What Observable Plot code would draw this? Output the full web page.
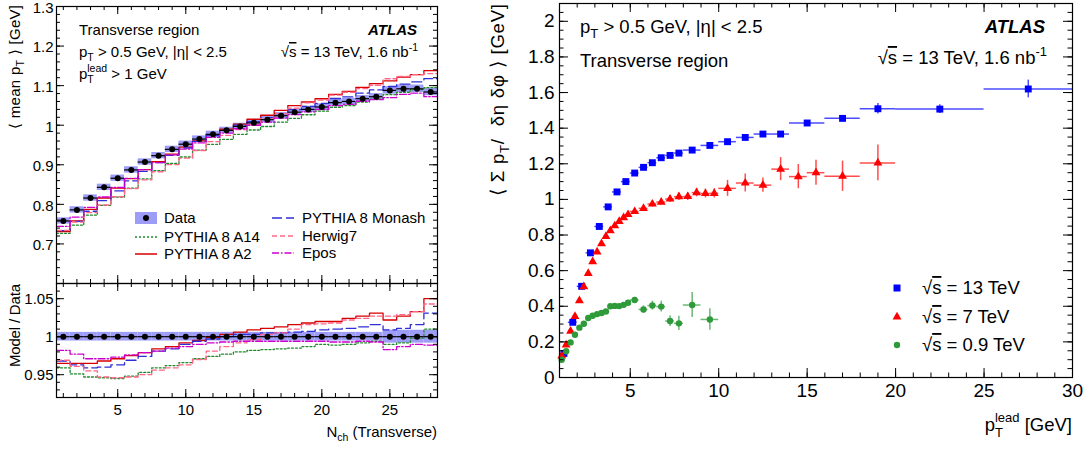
<!DOCTYPE html>
<html><head><meta charset="utf-8">
<script src="https://cdn.jsdelivr.net/npm/d3@7"></script>
<script src="https://cdn.jsdelivr.net/npm/@observablehq/plot@0.6"></script>
<style>
html,body{margin:0;padding:0;background:#fff;}
#wrap{position:relative;width:1091px;height:450px;overflow:hidden;background:#fff;}
#wrap svg{position:absolute;}
</style></head><body><div id="wrap"></div>
<script>
// ---------------- Left panel: <mean pT> vs Nch ----------------
const nch = [1,2,3,4,5,6,7,8,9,10,11,12,13,14,15,16,17,18,19,20,21,22,23,24,25,26,27,28];
const dataMean = [0.758,0.786,0.816,0.843,0.866,0.887,0.907,0.923,0.939,0.952,0.965,0.977,0.987,0.997,1.006,1.014,1.024,1.033,1.040,1.046,1.057,1.060,1.067,1.072,1.088,1.092,1.092,1.084];
const bandTop = [0.008,0.008,0.008,0.008,0.008,0.008,0.008,0.008,0.008,0.008,0.008,0.008,0.008,0.008,0.008,0.008,0.008,0.008,0.008,0.008,0.008,0.008,0.008,0.008,0.0095,0.0095,0.0095,0.0095];
const bandRatio = [0.0057,0.0057,0.0057,0.0057,0.0057,0.0057,0.0057,0.0057,0.0057,0.0057,0.0057,0.0057,0.0057,0.0057,0.0057,0.0057,0.0057,0.0057,0.0057,0.0057,0.0057,0.0057,0.0057,0.0057,0.0085,0.0085,0.0085,0.0085];
const ratioA14    = [0.959,0.951,0.947,0.946,0.945,0.948,0.953,0.959,0.962,0.966,0.971,0.974,0.977,0.980,0.982,0.983,0.984,0.985,0.987,0.990,0.989,0.990,0.992,0.994,0.990,0.992,0.998,1.010];
const ratioA2     = [0.965,0.965,0.965,0.968,0.971,0.975,0.979,0.984,0.987,0.992,0.995,0.999,1.003,1.006,1.009,1.011,1.013,1.016,1.018,1.020,1.020,1.024,1.027,1.031,1.022,1.027,1.033,1.050];
const ratioMonash = [0.968,0.963,0.959,0.960,0.963,0.969,0.974,0.981,0.984,0.990,0.994,0.997,1.000,1.003,1.003,1.005,1.005,1.006,1.007,1.009,1.010,1.011,1.013,1.016,1.009,1.011,1.016,1.031];
const ratioHerwig = [0.969,0.961,0.955,0.947,0.946,0.947,0.950,0.956,0.959,0.963,0.970,0.981,0.987,0.992,0.996,1.003,1.005,1.010,1.016,1.017,1.018,1.022,1.024,1.027,1.027,1.029,1.033,1.043];
const ratioEpos   = [0.982,0.977,0.971,0.971,0.973,0.976,0.979,0.981,0.985,0.987,0.990,0.992,0.993,0.994,0.994,0.994,0.994,0.994,0.994,0.994,0.993,0.993,0.994,0.993,0.983,0.987,0.990,0.989];
const modelNames  = ["PYTHIA 8 A14","PYTHIA 8 A2","PYTHIA 8 Monash","Herwig7","Epos"];
const leftXTicks = [5,10,15,20,25];
const leftTopYTicks = [0.7,0.8,0.9,1,1.1,1.2,1.3];
const leftBotYTicks = [0.95,1,1.05];

// ---------------- Right panel: <sum pT density> vs pT lead ----------------
const pt13  = [1.25,1.75,2.25,2.75,3.25,3.75,4.25,4.75,5.25,5.75,6.25,6.75,7.25,7.75,8.5,9.5,10.5,11.5,12.5,13.5,15,17,19,22.5,27.5];
const val13 = [0.135,0.31,0.512,0.70,0.848,0.958,1.042,1.10,1.148,1.18,1.206,1.234,1.247,1.26,1.277,1.303,1.324,1.348,1.367,1.367,1.429,1.455,1.509,1.507,1.62];
const xerr13 = [0.25,0.25,0.25,0.25,0.25,0.25,0.25,0.25,0.25,0.25,0.25,0.25,0.25,0.25,0.5,0.5,0.5,0.5,0.5,0.5,1,1,1,2.5,2.5];
const yerr13 = [0.004,0.004,0.005,0.005,0.005,0.006,0.006,0.006,0.007,0.007,0.008,0.008,0.009,0.009,0.008,0.009,0.010,0.010,0.012,0.012,0.012,0.015,0.03,0.025,0.05];

const pt7  = [1.125,1.375,1.625,1.875,2.125,2.375,2.625,2.875,3.125,3.375,3.625,3.875,4.125,4.375,4.625,4.875,5.25,5.75,6.25,6.75,7.25,7.75,8.25,8.75,9.25,9.75,10.5,11.5,12.5,13.5,14.5,15.5,17,19];
const val7 = [0.121,0.183,0.26,0.343,0.431,0.51,0.584,0.651,0.705,0.751,0.792,0.824,0.852,0.876,0.897,0.915,0.932,0.950,0.974,0.985,1.002,1.015,1.016,1.038,1.033,1.034,1.062,1.092,1.08,1.17,1.128,1.15,1.13,1.205];
const xerr7 = [0.125,0.125,0.125,0.125,0.125,0.125,0.125,0.125,0.125,0.125,0.125,0.125,0.125,0.125,0.125,0.125,0.25,0.25,0.25,0.25,0.25,0.25,0.25,0.25,0.25,0.25,0.5,0.5,0.5,0.5,0.5,0.5,1,1];
const yerr7 = [0.003,0.003,0.003,0.004,0.004,0.004,0.005,0.005,0.006,0.006,0.007,0.008,0.009,0.010,0.011,0.012,0.014,0.015,0.017,0.018,0.020,0.021,0.022,0.024,0.025,0.026,0.045,0.05,0.04,0.065,0.068,0.07,0.085,0.10];

const pt09  = [1.125,1.375,1.625,1.875,2.125,2.375,2.625,2.875,3.125,3.375,3.625,3.875,4.125,4.375,4.625,4.875,5.25,5.75,6.25,6.75,7.25,7.75,8.5,9.5];
const val09 = [0.10,0.147,0.197,0.240,0.280,0.302,0.334,0.347,0.356,0.362,0.371,0.400,0.402,0.401,0.408,0.420,0.435,0.382,0.404,0.398,0.317,0.304,0.407,0.326];
const xerr09 = [0.125,0.125,0.125,0.125,0.125,0.125,0.125,0.125,0.125,0.125,0.125,0.125,0.125,0.125,0.125,0.125,0.25,0.25,0.25,0.25,0.25,0.25,0.5,0.5];
const yerr09 = [0.003,0.003,0.003,0.004,0.004,0.004,0.005,0.005,0.006,0.006,0.007,0.008,0.009,0.010,0.011,0.012,0.015,0.02,0.025,0.03,0.03,0.04,0.07,0.06];
const rightXTicks = [5,10,15,20,25,30];
const rightYTicks = [0,0.2,0.4,0.6,0.8,1,1.2,1.4,1.6,1.8,2];
const energyLabels = ["13 TeV","7 TeV","0.9 TeV"];

// ---------------- styles ----------------
const FONT = "'Liberation Sans', Arial, Helvetica, sans-serif";
const modelStyle = [
  {color:"#1f8a2a", dash:"2,2"},
  {color:"#d80000", dash:null},
  {color:"#2f2fd8", dash:"10,4"},
  {color:"#ff6688", dash:"5,3"},
  {color:"#cc00cc", dash:"7,2,1.5,2"}
];
const seriesColor = ["#0000ff","#ff0000","#2e9a3a"];
const fmt = d3.format("~g");
const rng = (a,b,s) => d3.range(a, b + s/2, s).map(v => +v.toFixed(4));
const FL = 15, FR = 18.5, FRT = 19;

function frameTicks(fw, fh, xsets, ysets) {
  const m = [];
  for (const {values, len} of xsets) {
    m.push(Plot.tickX(values, {x: d => d, insetTop: fh - len, stroke: "black", strokeWidth: 1}));
    m.push(Plot.tickX(values, {x: d => d, insetBottom: fh - len, stroke: "black", strokeWidth: 1}));
  }
  for (const {values, len} of ysets) {
    m.push(Plot.tickY(values, {y: d => d, insetRight: fw - len, stroke: "black", strokeWidth: 1}));
    m.push(Plot.tickY(values, {y: d => d, insetLeft: fw - len, stroke: "black", strokeWidth: 1}));
  }
  return m;
}
function steps(vals) {
  const pts = nch.map((n, i) => ({x: n - 0.5, y: vals[i]}));
  pts.push({x: nch[nch.length - 1] + 0.5, y: vals[vals.length - 1]});
  return pts;
}
function place(svg, left, top) {
  svg.style.position = "absolute"; svg.style.left = left + "px"; svg.style.top = top + "px";
  svg.style.overflow = "visible";
  document.getElementById("wrap").appendChild(svg);
  return d3.select(svg).append("g").attr("font-family", FONT);
}
function txt(g, x, y, html, o = {}) {
  const t = g.append("text").attr("x", x).attr("y", y).attr("font-size", o.size || FL)
    .attr("text-anchor", o.anchor || "start").attr("fill", "black");
  if (o.bold) t.attr("font-weight", "bold");
  if (o.italic) t.attr("font-style", "italic");
  if (o.rotate) t.attr("transform", `rotate(-90 ${x} ${y})`);
  if (o.len) t.attr("textLength", o.len).attr("lengthAdjust", "spacing");
  t.html(html);
  return t;
}

const bins = nch.map((n, i) => ({n, v: dataMean[i], bt: bandTop[i], br: bandRatio[i]}));
const models = modelNames.map((name, k) => {
  const r = [ratioA14, ratioA2, ratioMonash, ratioHerwig, ratioEpos][k];
  return {name, ratio: r, top: r.map((q, i) => q * dataMean[i]), ...modelStyle[k]};
});

// ---------- left top ----------
{
  const W = 450, H = 283, ml = 56, mr = 13, mt = 6, mb = 0;
  const fw = W - ml - mr, fh = H - mt - mb;
  const plot = Plot.plot({
    width: W, height: H, marginLeft: ml, marginRight: mr, marginTop: mt, marginBottom: mb,
    style: {fontFamily: FONT, fontSize: "15px", background: "transparent", overflow: "visible"},
    x: {domain: [0.5, 28.5], axis: null},
    y: {domain: [0.6, 1.3]},
    marks: [
      Plot.rect(bins, {x1: d => d.n - 0.5, x2: d => d.n + 0.5, y1: d => d.v - d.bt, y2: d => d.v + d.bt, fill: "#9d9df7"}),
      ...models.map(m => Plot.line(steps(m.top), {x: "x", y: "y", curve: "step-after", stroke: m.color, strokeWidth: 1.3, strokeDasharray: m.dash || undefined})),
      Plot.ruleY(bins, {y: "v", x1: d => d.n - 0.5, x2: d => d.n + 0.5, stroke: "black", strokeWidth: 1.2}),
      Plot.dot(bins, {x: "n", y: "v", r: 3, fill: "black"}),
      ...frameTicks(fw, fh,
        [{values: nch, len: 4}, {values: leftXTicks, len: 8}],
        [{values: rng(0.62, 1.28, 0.02), len: 4}, {values: leftTopYTicks, len: 8}]),
      Plot.axisY(leftTopYTicks, {anchor: "left", tickSize: 0, tickPadding: 3, tickFormat: fmt, label: null, fontSize: FL, dy: 1.5}),
      Plot.frame({stroke: "black", strokeWidth: 1.2})
    ]
  });
  const g = place(plot, 0, 0);
  txt(g, 79, 35, "Transverse region");
  txt(g, 79, 57, 'p<tspan font-size="10.5" dy="4">T</tspan><tspan dy="-4"> &gt; 0.5 GeV, |η| &lt; 2.5</tspan>');
  txt(g, 79, 79, 'p<tspan font-size="10.5" dy="4">T</tspan><tspan font-size="10.5" dx="-6.5" dy="-11">lead</tspan><tspan dy="7"> &gt; 1 GeV</tspan>');
  txt(g, 417, 35, "ATLAS", {anchor: "end", bold: true, italic: true});
  txt(g, 418, 57, '√<tspan text-decoration="overline">s</tspan> = 13 TeV, 1.6 nb<tspan font-size="10.5" dy="-6">-1</tspan>', {anchor: "end"});
  txt(g, 20, 5, '⟨ mean p<tspan font-size="10.5" dy="4">T</tspan><tspan dy="-4"> ⟩ [GeV]</tspan>', {anchor: "end", rotate: true, len: 124});
  // legend
  const L = g.append("g");
  L.append("rect").attr("x", 135).attr("y", 212).attr("width", 22).attr("height", 12).attr("fill", "#9d9df7");
  L.append("circle").attr("cx", 146).attr("cy", 218).attr("r", 3).attr("fill", "black");
  txt(L, 164, 223, "Data");
  const legPos = [[135, 237, 164, 242], [135, 254, 164, 259], [272, 218, 302, 223], [272, 236, 302, 241], [272, 253, 302, 258]];
  models.forEach((m, k) => {
    const [lx, ly, tx, ty] = legPos[k];
    L.append("line").attr("x1", lx).attr("x2", lx + 22).attr("y1", ly).attr("y2", ly)
      .attr("stroke", m.color).attr("stroke-width", 1.5).attr("stroke-dasharray", m.dash || null);
    txt(L, tx, ty, m.name);
  });
}

// ---------- left bottom (ratio) ----------
{
  const W = 450, H = 167, ml = 56, mr = 13, mt = 0, mb = 53;
  const fw = W - ml - mr, fh = H - mt - mb;
  const plot = Plot.plot({
    width: W, height: H, marginLeft: ml, marginRight: mr, marginTop: mt, marginBottom: mb,
    style: {fontFamily: FONT, fontSize: "15px", background: "transparent", overflow: "visible"},
    x: {domain: [0.5, 28.5]},
    y: {domain: [0.92, 1.07]},
    marks: [
      Plot.rect(bins, {x1: d => d.n - 0.5, x2: d => d.n + 0.5, y1: d => 1 - d.br, y2: d => 1 + d.br, fill: "#9d9df7"}),
      ...models.map(m => Plot.line(steps(m.ratio), {x: "x", y: "y", curve: "step-after", stroke: m.color, strokeWidth: 1.3, strokeDasharray: m.dash || undefined})),
      Plot.ruleY(bins, {y: () => 1, x1: d => d.n - 0.5, x2: d => d.n + 0.5, stroke: "black", strokeWidth: 1.2}),
      Plot.dot(bins, {x: "n", y: () => 1, r: 3, fill: "black"}),
      ...frameTicks(fw, fh,
        [{values: nch, len: 4}, {values: leftXTicks, len: 8}],
        [{values: rng(0.93, 1.06, 0.01), len: 4}, {values: leftBotYTicks, len: 8}]),
      Plot.axisY(leftBotYTicks, {anchor: "left", tickSize: 0, tickPadding: 3, tickFormat: fmt, label: null, fontSize: FL}),
      Plot.axisX(leftXTicks, {anchor: "bottom", tickSize: 0, tickPadding: 7, tickFormat: fmt, label: null, fontSize: FL}),
      Plot.frame({stroke: "black", strokeWidth: 1.2})
    ]
  });
  const g = place(plot, 0, 283);
  txt(g, 20, 1, "Model / Data", {anchor: "end", rotate: true, len: 83});
  txt(g, 437, 154, 'N<tspan font-size="10.5" dy="4">ch</tspan><tspan dy="-4"> (Transverse)</tspan>', {anchor: "end"});
}

// ---------- right panel ----------
{
  const W = 611, H = 450, ml = 79, mr = 19, mt = 3, mb = 73;
  const fw = W - ml - mr, fh = H - mt - mb;
  const mk = (pt, v, xe, ye) => pt.map((x, i) => ({x, y: v[i], xe: xe[i], ye: ye[i]}));
  const s13 = mk(pt13, val13, xerr13, yerr13), s7 = mk(pt7, val7, xerr7, yerr7), s09 = mk(pt09, val09, xerr09, yerr09);
  const series = [[s13, "square", 3.9], [s7, "triangle", 3.3], [s09, "circle", 3.2]];
  const marks = [];
  series.forEach(([s, sym, r], k) => {
    marks.push(Plot.ruleY(s, {y: "y", x1: d => d.x - d.xe, x2: d => d.x + d.xe, stroke: seriesColor[k], strokeOpacity: 0.7, strokeWidth: 1.5}));
    marks.push(Plot.ruleX(s, {x: "x", y1: d => d.y - d.ye, y2: d => d.y + d.ye, stroke: seriesColor[k], strokeOpacity: 0.7, strokeWidth: 1.5}));
    marks.push(Plot.dot(s, {x: "x", y: "y", symbol: sym, r, fill: seriesColor[k], stroke: "none"}));
  });
  const plot = Plot.plot({
    width: W, height: H, marginLeft: ml, marginRight: mr, marginTop: mt, marginBottom: mb,
    style: {fontFamily: FONT, fontSize: "18.5px", background: "transparent", overflow: "visible"},
    x: {domain: [1, 30]},
    y: {domain: [0, 2.1]},
    marks: [
      ...marks,
      ...frameTicks(fw, fh,
        [{values: rng(1, 30, 1), len: 4.5}, {values: rightXTicks, len: 9}],
        [{values: rng(0, 2.1, 0.05), len: 4.5}, {values: rightYTicks, len: 9}]),
      Plot.axisY(rightYTicks, {anchor: "left", tickSize: 0, tickPadding: 5, tickFormat: fmt, label: null, fontSize: FRT}),
      Plot.axisX(rightXTicks, {anchor: "bottom", tickSize: 0, tickPadding: 6, tickFormat: fmt, label: null, fontSize: FRT}),
      Plot.frame({stroke: "black", strokeWidth: 1.2})
    ]
  });
  const g = place(plot, 480, 0);
  const o = 480;
  txt(g, 580 - o, 33, 'p<tspan font-size="13" dy="5">T</tspan><tspan dy="-5"> &gt; 0.5 GeV, |η| &lt; 2.5</tspan>', {size: FR});
  txt(g, 580 - o, 67, "Transverse region", {size: FR});
  txt(g, 1045 - o, 33, "ATLAS", {size: FR, anchor: "end", bold: true, italic: true});
  txt(g, 1047 - o, 64, '√<tspan text-decoration="overline">s</tspan> = 13 TeV, 1.6 nb<tspan font-size="13" dy="-8">-1</tspan>', {size: FR, anchor: "end"});
  txt(g, 504 - o, 4, '⟨ Σ p<tspan font-size="13" dy="5">T</tspan><tspan dy="-5">/  δη δφ ⟩ [GeV]</tspan>', {size: FR, anchor: "end", rotate: true, len: 192});
  txt(g, 1072 - o, 431, 'p<tspan font-size="13" dy="6">T</tspan><tspan font-size="13" dx="-8" dy="-15">lead</tspan><tspan dy="9"> [GeV]</tspan>', {size: FR, anchor: "end"});
  // legend
  const L = g.append("g");
  const lx = 897 - o, ly = [288, 317, 345];
  L.append("rect").attr("x", lx - 3.5).attr("y", ly[0] - 3.5).attr("width", 7).attr("height", 7).attr("fill", seriesColor[0]);
  L.append("path").attr("d", d3.symbol(d3.symbolTriangle, Math.PI * 3.3 * 3.3)()).attr("transform", `translate(${lx},${ly[1]})`).attr("fill", seriesColor[1]);
  L.append("circle").attr("cx", lx).attr("cy", ly[2]).attr("r", 3.2).attr("fill", seriesColor[2]);
  energyLabels.forEach((e, k) => {
    txt(L, 922 - o, ly[k] + 6, `√<tspan text-decoration="overline">s</tspan> = ${e}`, {size: FR});
  });
}
</script>
</body></html>
